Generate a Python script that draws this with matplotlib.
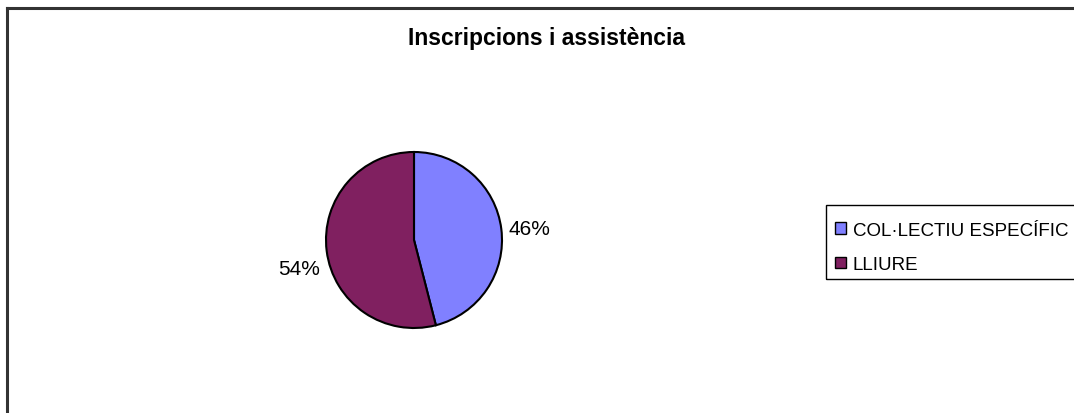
import numpy as np
import matplotlib.pyplot as plt
from matplotlib.lines import Line2D
from matplotlib.patches import Rectangle

# dades
categories = ['COL·LECTIU ESPECÍFIC', 'LLIURE']
valors = [46, 54]
colors = ['#8080FF', '#802060']
titol = 'Inscripcions i assistència'

plt.rcParams['font.family'] = ['Liberation Sans', 'DejaVu Sans']

W, H = 1074, 414
fig = plt.figure(figsize=(W / 100, H / 100), dpi=100)
fig.patch.set_facecolor('white')

# marc del grafic (nomes es veuen dalt i esquerra)
x0, y0 = 6.5 / W, 1 - 8.5 / H
fig.add_artist(Line2D([x0, x0], [0, y0], color='#333333', lw=2.2))
fig.add_artist(Line2D([x0, 1], [y0, y0], color='#333333', lw=2.2))

fig.text(546 / W, 1 - 38.5 / H, titol, ha='center', va='center',
         fontsize=16.5, fontweight='bold')

# pastis
cx, cy, r = 414, 241, 88
ax = fig.add_axes([(cx - r) / W, (H - cy - r) / H, 2 * r / W, 2 * r / H])
wedges, texts, autotexts = ax.pie(valors, colors=colors, startangle=90, counterclock=False,
                                  autopct='%1.0f%%', pctdistance=1.08,
                                  wedgeprops=dict(edgecolor='black', linewidth=1.5),
                                  textprops=dict(fontsize=15))
# etiquetes alineades cap a fora com a Excel
for w, t in zip(wedges, autotexts):
    ang = np.deg2rad((w.theta1 + w.theta2) / 2)
    x, y = t.get_position()
    if np.cos(ang) >= 0:
        t.set_ha('left')
    else:
        t.set_ha('right')
        t.set_position((x, y - 0.19))
ax.set_xlim(-1, 1)
ax.set_ylim(-1, 1)
ax.set_aspect('equal')
ax.axis('off')

# llegenda
fig.add_artist(Rectangle((826 / W, 1 - 280 / H), 260 / W, 74 / H, transform=fig.transFigure,
                         facecolor='none', edgecolor='black', lw=1.0, clip_on=False))
leg = fig.legend(wedges, categories, loc='upper left',
                 bbox_to_anchor=(835 / W, 1 - 222.5 / H),
                 fontsize=13.5, frameon=False,
                 handlelength=0.6, handleheight=0.55, handletextpad=0.35,
                 labelspacing=0.95, borderpad=0, borderaxespad=0)
for h in leg.legend_handles:
    h.set_linewidth(1.0)

fig.savefig('out.png', dpi=100)
